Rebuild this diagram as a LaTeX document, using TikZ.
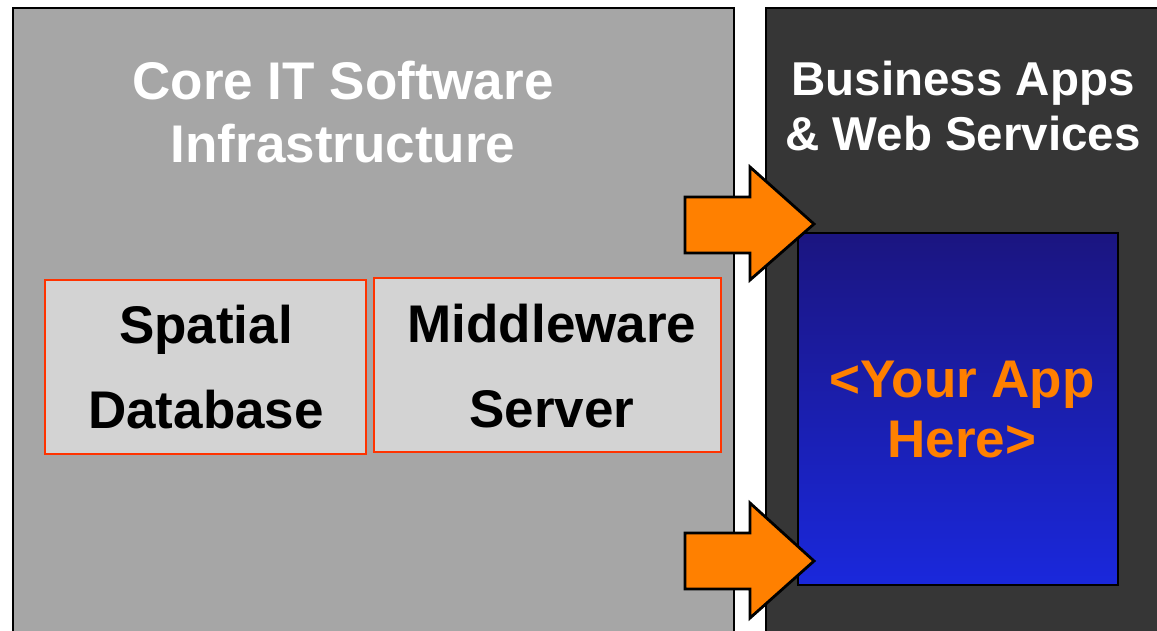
\documentclass[tikz,border=0pt]{standalone}
\usepackage{fontspec}
\setmainfont{Liberation Sans}
\begin{document}
\begin{tikzpicture}[x=1pt,y=-1pt,
  panel/.style={draw=black,line width=2.5pt},
  inbox/.style={draw=redline,fill=boxgray,line width=2.8pt},
  bigtext/.style={font=\bfseries\fontsize{53}{63}\selectfont,align=center,inner sep=0pt},
  fatarrow/.style={draw=black,fill=arrorange,line width=2.8pt,line join=miter}]
\definecolor{leftgray}{HTML}{A6A6A6}
\definecolor{darkgray}{HTML}{363636}
\definecolor{boxgray}{HTML}{D3D3D3}
\definecolor{redline}{HTML}{FF3300}
\definecolor{arrorange}{HTML}{FF8000}
\definecolor{bluetop}{HTML}{1B1580}
\definecolor{bluebot}{HTML}{1A28DC}
\useasboundingbox (0,0) rectangle (1157,630);
\clip (0,0) rectangle (1157,630);
\fill[white] (0,0) rectangle (1157,630);
% panels
\draw[panel,fill=leftgray] (13,8) rectangle (734,660);
\draw[panel,fill=darkgray] (766,8) rectangle (1190,660);
% titles
\node[bigtext,text=white] (coretitle) at (343,112) {Core IT Software\\Infrastructure};
\node[bigtext,text=white,font=\bfseries\fontsize{47.5}{55}\selectfont] (bustitle) at (963,106) {Business Apps\\\& Web Services};
% inner boxes
\node[inbox,minimum width=321pt,minimum height=174pt,inner sep=0pt] (spatial) at (205.5,367) {};
\node[inbox,minimum width=347pt,minimum height=174pt,inner sep=0pt] (middle) at (547.5,365) {};
\node[bigtext,font=\bfseries\fontsize{53}{85}\selectfont] (spatialtxt) at (206,367) {Spatial\\Database};
\node[bigtext,font=\bfseries\fontsize{53}{85}\selectfont] (middletxt) at (552,366) {Middleware\\Server};
% app box
\node[draw=black,line width=2.5pt,top color=bluetop,bottom color=bluebot,minimum width=320pt,minimum height=352pt,inner sep=0pt] (app) at (958,409) {};
\node[bigtext,text=arrorange,font=\bfseries\fontsize{53}{60}\selectfont] (apptxt) at (962,410) {<Your App\\Here>};
% arrows
\draw[fatarrow] (685,197) -- (750,197) -- (750,167) -- (814,224) -- (750,280) -- (750,253) -- (685,253) -- cycle;
\draw[fatarrow] (685,533) -- (750,533) -- (750,503) -- (814,561) -- (750,618) -- (750,589) -- (685,589) -- cycle;
\end{tikzpicture}
\end{document}
